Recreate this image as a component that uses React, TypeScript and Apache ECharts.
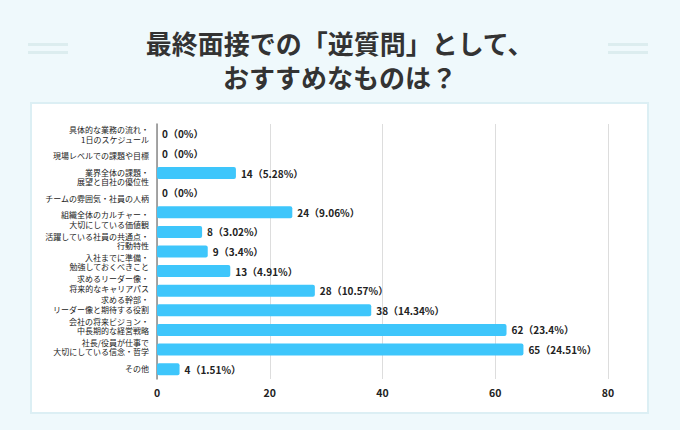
import React, { useEffect, useRef } from "react";
import * as echarts from "echarts";

const FONT = '"Noto Sans CJK JP", "Noto Sans", sans-serif';

const titleLines = ["最終面接での「逆質問」として、", "おすすめなものは？"];

// Question labels shown down the left side (12 labels)
const questionLabels = [
  "具体的な業務の流れ・\n1日のスケジュール",
  "現場レベルでの課題や目標",
  "業界全体の課題・\n展望と自社の優位性",
  "チームの雰囲気・社員の人柄",
  "組織全体のカルチャー・\n大切にしている価値観",
  "活躍している社員の共通点・\n行動特性",
  "入社までに準備・\n勉強しておくべきこと",
  "求めるリーダー像・\n将来的なキャリアパス",
  "求める幹部・\nリーダー像と期待する役割",
  "会社の将来ビジョン・\n中長期的な経営戦略",
  "社長/役員が仕事で\n大切にしている信念・哲学",
  "その他",
];

// Response rows (13 bars)
const rowIds = ["r1", "r2", "r3", "r4", "r5", "r6", "r7", "r8", "r9", "r10", "r11", "r12", "r13"];
const counts = [0, 0, 14, 0, 24, 8, 9, 13, 28, 38, 62, 65, 4];
const percents = [0, 0, 5.28, 0, 9.06, 3.02, 3.4, 4.91, 10.57, 14.34, 23.4, 24.51, 1.51];

const xTicks = { min: 0, max: 80, interval: 20 };

export default function App() {
  const ref = useRef<HTMLDivElement>(null);

  useEffect(() => {
    if (!ref.current) return;
    const chart = echarts.init(ref.current, null, { renderer: "svg" });
    chart.setOption({
      animation: false,
      backgroundColor: "transparent",
      textStyle: { fontFamily: FONT },
      graphic: titleLines.map((line, i) => ({
        type: "text",
        left: "center",
        top: 29 + i * 34,
        style: {
          text: line,
          font: `bold 26px ${FONT}`,
          fill: "#333333",
        },
      })),
      grid: { left: 157, right: 72, top: 124, bottom: 51, containLabel: false },
      xAxis: {
        type: "value",
        min: xTicks.min,
        max: xTicks.max,
        interval: xTicks.interval,
        axisLine: { show: false },
        axisTick: { show: false },
        splitLine: { lineStyle: { color: "#dddddd", width: 1 } },
        axisLabel: {
          color: "#222222",
          fontWeight: "bold",
          fontSize: 10.5,
          margin: 8,
          fontFamily: FONT,
        },
      },
      yAxis: [
        {
          type: "category",
          inverse: true,
          position: "left",
          data: rowIds,
          axisLine: { show: true, lineStyle: { color: "#8a8a8a", width: 1.5 } },
          axisTick: { show: false },
          axisLabel: { show: false },
        },
        {
          type: "category",
          inverse: true,
          position: "left",
          data: questionLabels,
          axisLine: { show: false },
          axisTick: { show: false },
          splitLine: { show: false },
          axisLabel: {
            color: "#222222",
            fontSize: 8,
            lineHeight: 9.5,
            margin: 8,
            fontFamily: FONT,
          },
        },
      ],
      series: [
        {
          type: "bar",
          yAxisIndex: 0,
          data: counts,
          barWidth: 12,
          itemStyle: { color: "#3ec6fb", borderRadius: 2 },
          label: {
            show: true,
            position: "right",
            distance: 5,
            color: "#222222",
            fontWeight: "bold",
            fontSize: 10,
            fontFamily: FONT,
            formatter: (p: any) => `${p.value}（${percents[p.dataIndex]}%）`,
          },
        },
      ],
    });
    return () => chart.dispose();
  }, []);

  return (
    <div
      style={{
        position: "fixed",
        left: 0,
        top: 0,
        width: 680,
        height: 430,
        background: "#eff9fc",
        overflow: "hidden",
      }}
    >
      <div style={{ position: "absolute", left: 28, top: 43, width: 40, height: 3, background: "#dcedef" }} />
      <div style={{ position: "absolute", left: 28, top: 51, width: 40, height: 3, background: "#dcedef" }} />
      <div style={{ position: "absolute", left: 608, top: 43, width: 40, height: 3, background: "#dcedef" }} />
      <div style={{ position: "absolute", left: 608, top: 51, width: 40, height: 3, background: "#dcedef" }} />
      <div
        style={{
          position: "absolute",
          left: 30,
          top: 102,
          width: 615,
          height: 308,
          background: "#ffffff",
          border: "2.5px solid #dceff4",
        }}
      />
      <div ref={ref} style={{ position: "absolute", left: 0, top: 0, width: 680, height: 430 }} />
    </div>
  );
}
